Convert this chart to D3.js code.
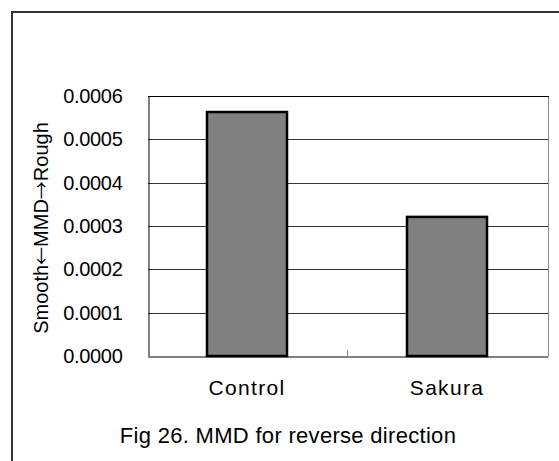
<!DOCTYPE html>
<html><head><meta charset="utf-8">
<script src="https://cdn.jsdelivr.net/npm/d3@7"></script>
<style>body{margin:0;background:#fff;overflow:hidden}svg{display:block}text{font-family:"Liberation Sans",Arial,sans-serif;fill:#000}</style>
</head><body>
<script>
const categories = ["Control", "Sakura"];
const values = [0.000563, 0.000321];
const yTicks = [0, 0.0001, 0.0002, 0.0003, 0.0004, 0.0005, 0.0006];
const yLabelParts = ["Smooth", "\u2190", "MMD", "\u2192", "Rough"];
const title = "Fig 26. MMD for reverse direction";

const W = 559, H = 461;
const m = {left: 148, right: 548, top: 96, bottom: 356};
const svg = d3.select("body").append("svg").attr("width", W).attr("height", H);

// outer frame (top and left edges visible)
svg.append("line").attr("x1", 11).attr("x2", W).attr("y1", 12).attr("y2", 12).attr("stroke", "#333").attr("stroke-width", 2);
svg.append("line").attr("x1", 12).attr("x2", 12).attr("y1", 11).attr("y2", H).attr("stroke", "#333").attr("stroke-width", 2);

const x = d3.scaleBand().domain(categories).range([m.left, m.right]).paddingInner(0.6).paddingOuter(0.3);
const y = d3.scaleLinear().domain([0, 0.0006]).range([m.bottom, m.top]);

// gridlines
svg.append("g").selectAll("line").data(yTicks.slice(1)).join("line")
  .attr("x1", m.left).attr("x2", m.right).attr("y1", d => Math.round(y(d)) + 0.5).attr("y2", d => Math.round(y(d)) + 0.5)
  .attr("stroke", "#333").attr("stroke-width", 1);

// right border of plot
svg.append("line").attr("x1", m.right + 0.5).attr("x2", m.right + 0.5).attr("y1", m.top).attr("y2", m.bottom)
  .attr("stroke", "#888").attr("stroke-width", 1);

// bars
svg.append("g").selectAll("rect").data(values).join("rect")
  .attr("x", (d, i) => x(categories[i]) - 1)
  .attr("width", x.bandwidth())
  .attr("y", d => y(d))
  .attr("height", d => y(0) - y(d))
  .attr("fill", "#808080").attr("stroke", "#000").attr("stroke-width", 2.5);

// y axis
const yAxis = svg.append("g").attr("transform", `translate(${m.left + 0.5},0)`)
  .call(d3.axisLeft(y).tickValues(yTicks).tickFormat(d3.format(".4f")).tickSize(0).tickPadding(26));
yAxis.select(".domain").attr("stroke", "#000").attr("stroke-width", 1);
yAxis.selectAll("text").attr("font-size", 20).attr("font-family", "Liberation Sans, Arial, sans-serif").attr("letter-spacing", -0.3);

// x axis
const xAxis = svg.append("g").attr("transform", `translate(0,${m.bottom + 0.5})`)
  .call(d3.axisBottom(x).tickSize(0).tickPadding(24));
xAxis.select(".domain").attr("stroke", "#000").attr("stroke-width", 1);
xAxis.selectAll("text").attr("font-size", 21).attr("font-family", "Liberation Sans, Arial, sans-serif")
  .attr("letter-spacing", 1.3).attr("dx", -1);
// middle category separator tick
const midX = (x("Control") + x.bandwidth() + x("Sakura")) / 2 - 0.5;
svg.append("line").attr("x1", midX).attr("x2", midX)
  .attr("y1", m.bottom - 6).attr("y2", m.bottom).attr("stroke", "#888").attr("stroke-width", 1);

// top border of plot
svg.append("line").attr("x1", m.left).attr("x2", m.right + 1).attr("y1", m.top + 0.5).attr("y2", m.top + 0.5)
  .attr("stroke", "#000").attr("stroke-width", 1);

// y label
const yl = svg.append("text").attr("transform", `translate(48,${(m.top + m.bottom) / 2 + 2}) rotate(-90)`)
  .attr("text-anchor", "middle").attr("font-size", 20);
yl.selectAll("tspan").data(yLabelParts).join("tspan")
  .attr("font-family", (d, i) => i % 2 ? "Noto Sans CJK JP, DejaVu Sans, sans-serif" : null)
  .attr("font-size", (d, i) => i % 2 ? 18 : null)
  .text(d => d);

// title
svg.append("text").attr("x", 288).attr("y", 443).attr("text-anchor", "middle")
  .attr("font-size", 22).attr("letter-spacing", 0.3).text(title);
</script>
</body></html>
